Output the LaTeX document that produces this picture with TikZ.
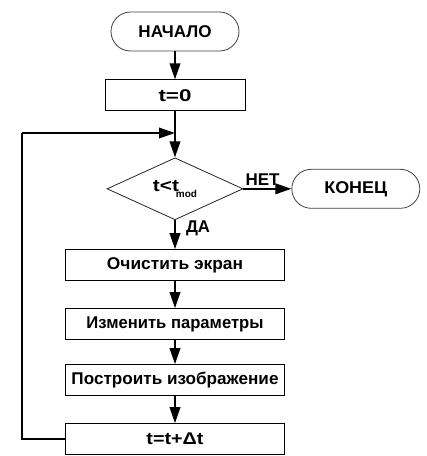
\documentclass[tikz,border=0pt]{standalone}
\usepackage{graphicx}
\usepackage{fontspec}
\setmainfont{Liberation Sans}
\usetikzlibrary{arrows.meta, positioning, shapes.geometric}
% text stretched to the width that the picture gives it
\newcommand{\fitw}[2]{\resizebox{#1}{\height}{#2}}
\tikzset{
  term/.style={draw=black!75, line width=0.8pt, rounded corners=19.5pt, minimum width=128pt, minimum height=39pt, inner sep=0pt},
  proc/.style={draw, line width=1pt, minimum width=219pt, minimum height=31pt, inner sep=0pt},
  cond/.style={draw=black!85, line width=0.8pt, diamond, aspect=2.2, minimum width=136pt, minimum height=62pt, inner sep=0pt},
  arrow/.style={-{Triangle[length=16pt, width=10.5pt]}, line width=2pt},
  flow/.style={line width=2pt},
  note/.style={inner sep=2pt},
  every node/.style={font=\bfseries\fontsize{17}{20}\selectfont}
}

\begin{document}
\begin{tikzpicture}[x=1pt, y=1pt, node distance=27pt]
    \useasboundingbox (0,0) rectangle (427,-456);
    \node[term] (start) at (175,-31.5) {\fitw{73pt}{НАЧАЛО}};
    \node[proc, minimum width=140pt, below=28pt of start] (init) {\fitw{33pt}{t=0}};
    \node[cond, below=46pt of init] (check) {\fitw{26pt}{t<t}\hspace{-3pt}\raisebox{-6pt}{\fontsize{10}{10}\selectfont mod}};
    \node[term, right=48pt of check] (stop) {\fitw{63pt}{КОНЕЦ}};
    \node[proc, below=29pt of check] (clear) {\fitw{136pt}{Очистить экран}};
    \node[proc, below=of clear] (params) {\fitw{177pt}{Изменить параметры}};
    \node[proc, below=24pt of params] (render) {\fitw{207pt}{Построить изображение}};
    \node[proc, below=of render] (step) {\fitw{57pt}{t=t+Δt}};

    \coordinate (back) at (22,-133);
    \coordinate (merge) at (init.south |- back);

    \draw[arrow] (start) -- (init);
    \draw[arrow] (init) -- (check);
    \draw[arrow] (check) -- node[note, above, pos=0.4] {\fitw{34pt}{НЕТ}} (stop);
    \draw[arrow] (check) -- node[note, right, pos=0.27, xshift=8pt] {\fitw{24pt}{ДА}} (clear);
    \draw[arrow] (clear) -- (params);
    \draw[arrow] (params) -- (render);
    \draw[arrow] (render) -- (step);
    \draw[flow] (step.west) -| (back);
    \draw[arrow] (back) -- (merge);
\end{tikzpicture}
\end{document}
